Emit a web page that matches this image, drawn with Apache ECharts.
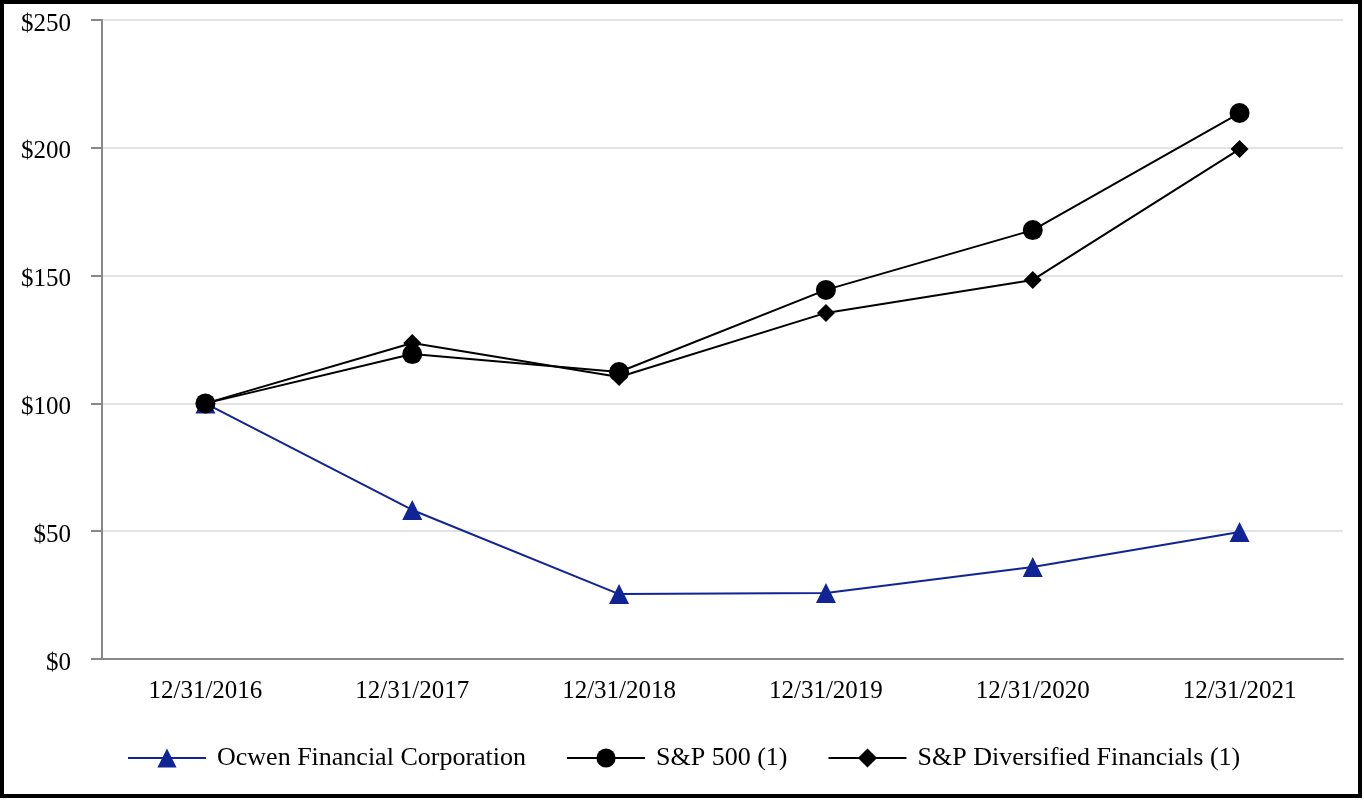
<!DOCTYPE html>
<html>
<head>
<meta charset="utf-8">
<script src="https://cdn.jsdelivr.net/npm/echarts@6/dist/echarts.min.js"></script>
<style>
html,body{margin:0;padding:0;background:#fff;}
#frame{position:absolute;left:0;top:0;width:1362px;height:798px;border:4px solid #000;box-sizing:border-box;}
#chart{position:absolute;left:0;top:0;width:1364px;height:800px;}
</style>
</head>
<body>
<div id="frame"></div>
<div id="chart"></div>
<script>
const categories = ['12/31/2016','12/31/2017','12/31/2018','12/31/2019','12/31/2020','12/31/2021'];
const ocwen = [100, 58.3, 25.4, 25.8, 36.0, 49.7];
const sp500 = [100, 119.3, 112.3, 144.4, 167.8, 213.6];
const spDivFin = [100, 123.6, 110.3, 135.4, 148.3, 199.5];
const yTicks = [0, 50, 100, 150, 200, 250];

const font = '"Liberation Serif", "Times New Roman", serif';
const chart = echarts.init(document.getElementById('chart'));
chart.setOption({
  animation: false,
  backgroundColor: 'transparent',
  grid: {left: 102, right: 21, top: 20, bottom: 141, containLabel: false},
  legend: {
    left: 127, top: 745, padding: 0,
    itemWidth: 78, itemHeight: 24, itemGap: 40,
    textStyle: {fontFamily: font, fontSize: 26, color: '#000', padding: [0,0,0,6]},
    data: ['Ocwen Financial Corporation', 'S&P 500 (1)', 'S&P Diversified Financials (1)']
  },
  xAxis: {
    type: 'category', data: categories, boundaryGap: true,
    axisLine: {lineStyle: {color: '#888', width: 2}},
    axisTick: {alignWithLabel: true, length: 11, lineStyle: {color: '#888', width: 2}},
    axisLabel: {fontFamily: font, fontSize: 25, color: '#000', margin: 20}
  },
  yAxis: {
    type: 'value', min: yTicks[0], max: yTicks[yTicks.length-1], interval: 50,
    axisLine: {show: true, lineStyle: {color: '#888', width: 2}},
    axisTick: {show: true, length: 11, lineStyle: {color: '#888', width: 2}},
    splitLine: {lineStyle: {color: '#e3e3e3', width: 2}},
    axisLabel: {
      color: '#000', margin: 31,
      formatter: v => '{a|$' + v + '}',
      rich: {a: {fontFamily: font, fontSize: 25, color: '#000', padding: [8,0,0,0]}}
    }
  },
  series: [
    {name: 'Ocwen Financial Corporation', type: 'line', data: ocwen, symbol: 'triangle', symbolSize: 20,
     lineStyle: {color: '#102496', width: 2}, itemStyle: {color: '#102496'}, z: 2},
    {name: 'S&P 500 (1)', type: 'line', data: sp500, symbol: 'circle', symbolSize: 20,
     lineStyle: {color: '#000', width: 2}, itemStyle: {color: '#000'}, z: 3},
    {name: 'S&P Diversified Financials (1)', type: 'line', data: spDivFin, symbol: 'diamond', symbolSize: 18,
     lineStyle: {color: '#000', width: 2}, itemStyle: {color: '#000'}, z: 4}
  ]
});
</script>
</body>
</html>
